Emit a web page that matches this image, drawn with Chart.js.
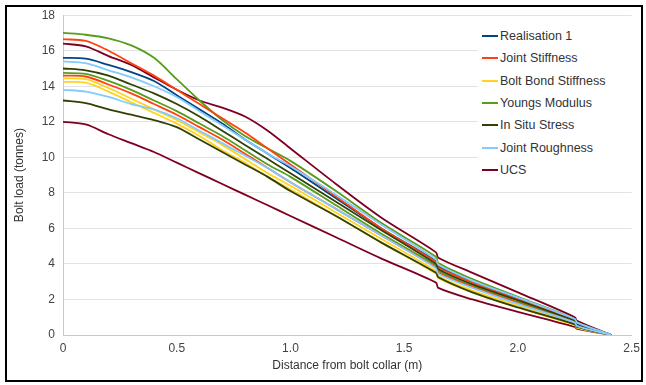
<!DOCTYPE html>
<html>
<head>
<meta charset="utf-8">
<script src="https://cdn.jsdelivr.net/npm/chart.js@4"></script>
<style>
  body { margin: 0; background: #fff; }
  #wrap { position: relative; width: 646px; height: 385px; overflow: hidden; }
  #frame { position: absolute; left: 5px; top: 5px; width: 634px; height: 373px; border: 2px solid #000; pointer-events: none; }
  #legend { position: absolute; left: 478px; top: 25px; width: 158px; height: 156px; background: #fff; font-family: "Liberation Sans", Arial, sans-serif; font-size: 12.5px; color: #333; }
  .item { position: absolute; left: 0; height: 16px; line-height: 16px; white-space: nowrap; }
  .item i { position: absolute; left: 4px; top: 7px; width: 16px; height: 2px; }
  .item span { position: absolute; left: 22px; }
</style>
</head>
<body>
<div id="wrap">
  <canvas id="chart" width="646" height="385"></canvas>
  <div id="legend"></div>
  <div id="frame"></div>
</div>
<script>
// distance from collar (m)
const xs = [0, 0.1, 0.2, 0.3, 0.4, 0.5, 0.6, 0.7, 0.8, 0.9, 1.0, 1.2, 1.4, 1.64, 1.65, 1.8, 2.0, 2.25, 2.26, 2.41];

const labels = ['Realisation 1', 'Joint Stiffness', 'Bolt Bond Stiffness', 'Youngs Modulus', 'In Situ Stress', 'Joint Roughness', 'UCS'];
const colors = ['#004586', '#ff420e', '#ffd320', '#579d1c', '#314004', '#83caff', '#7e0021'];

// bolt load (tonnes)
const realisation1   = [15.6, 15.55, 15.2, 14.8, 14.3, 13.5, 12.7, 11.9, 11.0, 10.2, 9.4, 7.7, 6.0, 4.15, 3.85, 3.0, 2.05, 0.85, 0.65, 0];
const jointStiffHi   = [16.65, 16.55, 16.0, 15.3, 14.6, 13.8, 13.0, 12.2, 11.4, 10.5, 9.6, 7.8, 6.0, 4.1, 3.8, 2.95, 2.0, 0.85, 0.65, 0];
const jointStiffLo   = [14.6, 14.55, 14.1, 13.6, 13.0, 12.4, 11.7, 11.0, 10.2, 9.4, 8.6, 7.1, 5.6, 3.8, 3.5, 2.7, 1.8, 0.7, 0.5, 0];
const boltBondHi     = [14.45, 14.4, 13.9, 13.3, 12.7, 12.1, 11.4, 10.7, 9.9, 9.1, 8.4, 6.9, 5.4, 3.6, 3.3, 2.5, 1.65, 0.6, 0.45, 0];
const boltBondLo     = [14.25, 14.2, 13.7, 13.1, 12.5, 11.9, 11.2, 10.4, 9.7, 8.9, 8.2, 6.7, 5.2, 3.45, 3.2, 2.4, 1.55, 0.55, 0.4, 0];
const youngsHi       = [17.0, 16.9, 16.7, 16.3, 15.6, 14.4, 13.2, 12.1, 11.2, 10.5, 9.8, 8.1, 6.3, 4.4, 4.05, 3.15, 2.15, 0.9, 0.7, 0];
const youngsLo       = [14.75, 14.7, 14.3, 13.8, 13.2, 12.6, 11.9, 11.2, 10.4, 9.6, 8.9, 7.3, 5.7, 3.9, 3.6, 2.75, 1.85, 0.75, 0.55, 0];
const inSituHi       = [15.0, 14.9, 14.6, 14.1, 13.6, 13.0, 12.3, 11.5, 10.7, 9.9, 9.1, 7.5, 5.9, 4.0, 3.7, 2.85, 1.95, 0.8, 0.6, 0];
const inSituLo       = [13.2, 13.05, 12.7, 12.4, 12.1, 11.7, 11.0, 10.3, 9.6, 8.9, 8.1, 6.7, 5.2, 3.5, 3.25, 2.4, 1.55, 0.6, 0.45, 0];
const roughnessHi    = [15.4, 15.3, 14.9, 14.5, 14.0, 13.4, 12.6, 11.8, 11.0, 10.2, 9.5, 7.9, 6.2, 4.25, 3.95, 3.05, 2.1, 0.9, 0.7, 0];
const roughnessLo    = [13.8, 13.7, 13.4, 13.0, 12.7, 12.2, 11.5, 10.8, 10.1, 9.4, 8.6, 7.1, 5.6, 3.75, 3.45, 2.65, 1.75, 0.7, 0.5, 0];
const ucsHi          = [16.4, 16.25, 15.7, 15.2, 14.5, 13.8, 13.2, 12.8, 12.3, 11.5, 10.5, 8.5, 6.6, 4.65, 4.35, 3.5, 2.4, 1.0, 0.8, 0];
const ucsLo          = [12.0, 11.85, 11.3, 10.8, 10.3, 9.7, 9.1, 8.5, 7.9, 7.3, 6.7, 5.5, 4.3, 2.95, 2.65, 2.0, 1.3, 0.45, 0.35, 0];

const xTicks = [0, 0.5, 1, 1.5, 2, 2.5];
const yTicks = [0, 2, 4, 6, 8, 10, 12, 14, 16, 18];

// series list: [values, legend index]
const seriesList = [
  [roughnessLo, 5], [roughnessHi, 5],
  [inSituLo, 4], [inSituHi, 4],
  [jointStiffLo, 1], [jointStiffHi, 1],
  [realisation1, 0],
  [youngsLo, 3], [youngsHi, 3],
  [boltBondHi, 2], [boltBondLo, 2],
  [ucsLo, 6], [ucsHi, 6]
];

function toPoints(vals) {
  return vals.map((v, i) => ({ x: xs[i], y: v }));
}

const datasets = seriesList.map(function (s) {
  return {
    label: labels[s[1]],
    data: toPoints(s[0]),
    borderColor: colors[s[1]],
    borderWidth: 1.8,
    showLine: true,
    pointRadius: 0,
    fill: false,
    tension: 0.3
  };
});

const font = { family: '"Liberation Sans", Arial, sans-serif', size: 12 };

new Chart(document.getElementById('chart').getContext('2d'), {
  type: 'scatter',
  data: { datasets: datasets },
  options: {
    responsive: false,
    animation: false,
    layout: { padding: { left: 8, right: 13, top: 14, bottom: 10 } },
    plugins: { legend: { display: false }, tooltip: { enabled: false } },
    scales: {
      x: {
        type: 'linear', min: 0, max: 2.5,
        afterBuildTicks: function (scale) { scale.ticks = xTicks.map(v => ({ value: v })); },
        afterFit: function (scale) { scale.height = 40; },
        ticks: { color: '#444', font: font, padding: 6, maxRotation: 0 },
        grid: { display: false, drawTicks: false },
        border: { display: true, color: '#c8c8c8' },
        title: { display: true, text: 'Distance from bolt collar (m)', color: '#333', font: font, padding: { top: 2, bottom: 2 } }
      },
      y: {
        type: 'linear', min: 0, max: 18,
        afterBuildTicks: function (scale) { scale.ticks = yTicks.map(v => ({ value: v })); },
        afterFit: function (scale) { scale.width = 55; },
        ticks: { color: '#444', font: font, padding: 8 },
        grid: { color: '#e2e2e2', drawTicks: false },
        border: { display: true, color: '#c8c8c8' },
        title: { display: true, text: 'Bolt load (tonnes)', color: '#333', font: font, padding: { top: 4, bottom: 0 } }
      }
    }
  }
});

// legend
const legend = document.getElementById('legend');
labels.forEach(function (name, i) {
  const item = document.createElement('div');
  item.className = 'item';
  item.style.top = (3 + i * 22.3) + 'px';
  item.innerHTML = '<i style="background:' + colors[i] + '"></i><span>' + name + '</span>';
  legend.appendChild(item);
});
</script>
</body>
</html>
